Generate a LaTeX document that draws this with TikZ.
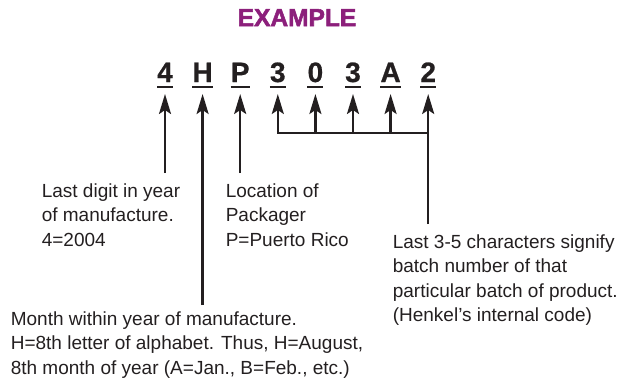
\documentclass[tikz,border=0pt]{standalone}
\usepackage{fontspec}
\setmainfont{Liberation Sans}
\newfontfamily\heavyfont[FakeBold=2.2]{Liberation Sans Bold}
\newfontfamily\codefont[FakeBold=0.8]{Liberation Sans Bold}
\usetikzlibrary{arrows.meta}
\definecolor{titlepurple}{RGB}{140,31,123}
\definecolor{ink}{RGB}{35,31,32}
\begin{document}
\begin{tikzpicture}[x=1pt,y=-1pt,
  codech/.style={font=\codefont\fontsize{28}{30}\selectfont, inner sep=0pt, anchor=base, text=ink},
  desc/.style={font=\fontsize{19}{24.5}\selectfont, inner sep=0pt, anchor=north west, align=left, text=ink},
  uline/.style={draw=ink, line width=2pt},
  pointer/.style={draw=ink, line width=2.3pt, -{Stealth[length=20pt,width=12pt,inset=4pt]}},
  wire/.style={draw=ink, line width=2.3pt, line cap=rect}]
\useasboundingbox (0,0) rectangle (633,384);

\node[font=\heavyfont\fontsize{24.5}{26}\selectfont, text=titlepurple, inner sep=0pt, anchor=base] (title) at (297,26) {EXAMPLE};

\foreach \ch [count=\i] in {4,H,P,3,0,3,A,2} {
  \node[codech] (c\i) at ({165+37.6*(\i-1)},82) {\ch};
  \draw[uline] ([yshift=-5pt]c\i.base west) -- ([yshift=-5pt]c\i.base east);
}

% free ends of the single pointers
\coordinate (e1) at (c1.base |- 0,173);
\coordinate (e2) at (c2.base |- 0,305);
\coordinate (e3) at (c3.base |- 0,173);
\coordinate (e8) at (c8.base |- 0,224);
% bracket joints
\foreach \i in {4,5,6,7,8} {
  \coordinate (b\i) at (c\i.base |- 0,133);
}

\draw[pointer] (e1) -- ([yshift=-12pt]c1.base);
\draw[pointer] (e2) -- ([yshift=-12pt]c2.base);
\draw[pointer] (e3) -- ([yshift=-12pt]c3.base);
\draw[wire] (b4) -- (b8);
\foreach \i in {4,5,6,7} {
  \draw[pointer] (b\i) -- ([yshift=-12pt]c\i.base);
}
\draw[pointer] (e8) -- ([yshift=-12pt]c8.base);

\node[desc] (t1) at (41.6,183) {\rule{0pt}{14pt}Last digit in year\\of manufacture.\\4=2004};
\node[desc] (t2) at (225.6,183) {\rule{0pt}{14pt}Location of\\Packager\\P=Puerto Rico};
\node[desc] (t3) at (392.6,234) {\rule{0pt}{14pt}Last 3-5 characters signify\\batch number of that\\particular batch of product.\\(Henkel’s internal code)};
\node[desc] (t4) at (10.6,311) {\rule{0pt}{14pt}Month within year of manufacture.\\H=8th letter of alphabet. Thus, H=August,\\8th month of year (A=Jan., B=Feb., etc.)};
\end{tikzpicture}
\end{document}
